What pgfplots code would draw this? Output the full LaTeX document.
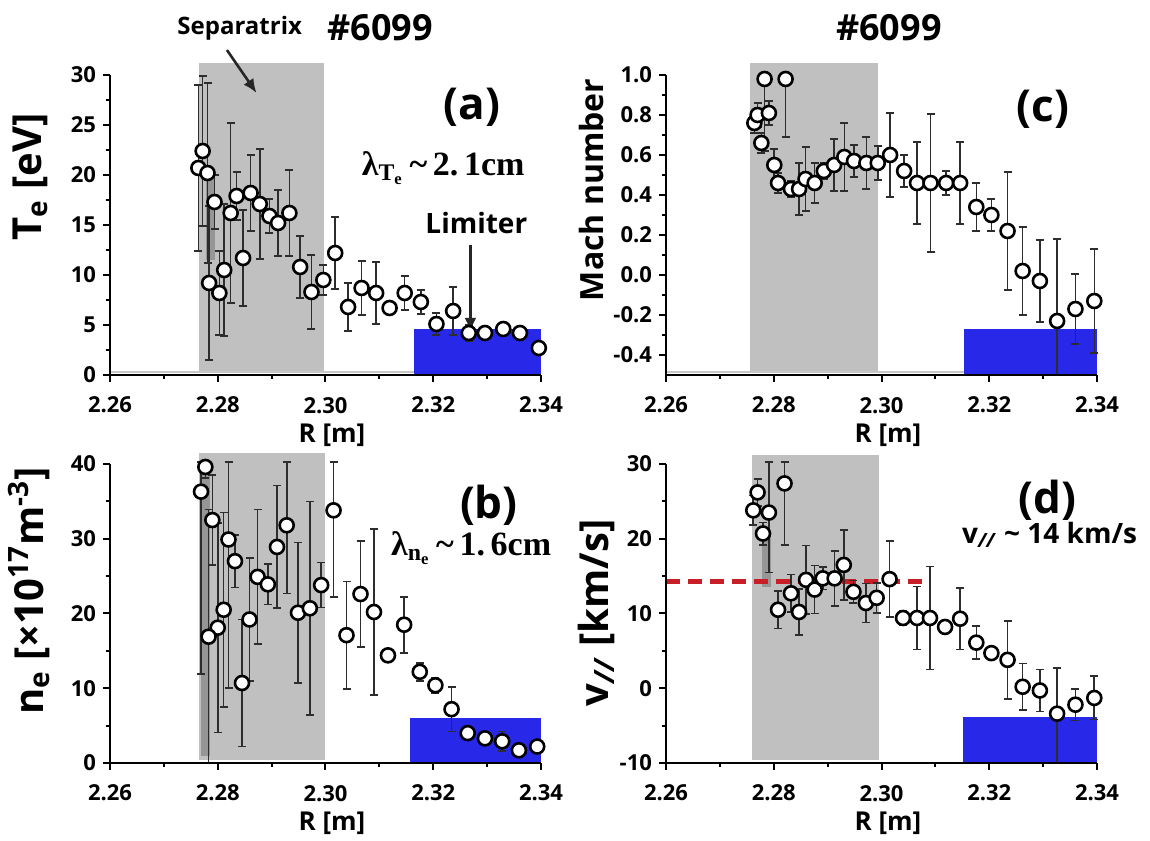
\documentclass[border=0pt]{standalone}
\usepackage{fontspec}
\setmainfont{Open Sans}
\newfontfamily\lser{Liberation Serif}
\usepackage{pgfplots}
\usepackage{pgfplotstable}
\pgfplotsset{compat=1.18}
\usetikzlibrary{arrows.meta}

\definecolor{sepgray}{RGB}{192,192,192}
\definecolor{darkstrip}{RGB}{150,150,150}
\definecolor{limblue}{RGB}{40,40,232}
\definecolor{vred}{RGB}{200,30,40}
\definecolor{errc}{RGB}{45,45,45}

% R, value, error plus, error minus
\pgfplotstableread{
R y ep em
2.2764 20.7 8.3 8.3
2.2772 22.4 7.5 7.5
2.2781 20.2 9.0 9.0
2.2784 9.2 7.7 7.7
2.2794 17.3 2.7 2.7
2.2803 8.2 4.2 4.2
2.2812 10.5 6.6 6.6
2.2824 16.2 9.0 9.0
2.2835 17.9 2.4 2.4
2.2847 11.7 4.8 4.8
2.2861 18.2 3.8 3.8
2.2878 17.1 5.5 5.5
2.2896 15.9 1.7 1.7
2.2912 15.2 3.3 3.3
2.2933 16.2 4.3 4.3
2.2953 10.8 3.1 3.1
2.2974 8.3 3.7 3.7
2.2996 9.5 1.5 1.5
2.3018 12.2 3.6 3.6
2.3042 6.8 2.4 2.4
2.3067 8.7 2.7 2.7
2.3094 8.2 3.1 3.1
2.3119 6.7 0.5 0.5
2.3147 8.2 1.7 1.7
2.3177 7.3 1.2 1.2
2.3206 5.1 1.1 1.1
2.3237 6.4 2.4 2.4
2.3266 4.2 0.8 0.8
2.3296 4.2 0.5 0.5
2.3330 4.6 0.6 0.6
2.3361 4.2 0.3 0.3
2.3396 2.7 0.3 0.3
}\tablea

\pgfplotstableread{
R y ep em
2.2777 39.6 0.7 1.5
2.2769 36.3 4.0 24.4
2.2790 32.5 6.0 6.0
2.2820 29.9 10.4 19.9
2.2832 27.0 3.5 3.5
2.2811 20.5 13.0 13.0
2.2800 18.1 14.0 14.0
2.2783 16.9 17.0 16.9
2.2845 10.7 8.5 8.5
2.2859 19.2 8.2 8.2
2.2874 24.9 9.0 9.0
2.2893 23.9 2.7 2.7
2.2910 28.9 8.2 8.2
2.2928 31.8 8.5 9.1
2.2949 20.1 9.4 9.4
2.2971 20.7 14.3 14.3
2.2992 23.8 3.0 3.0
2.3015 33.8 6.5 11.6
2.3039 17.1 7.2 7.2
2.3065 22.6 7.1 7.1
2.3090 20.2 11.1 11.1
2.3116 14.4 0.6 0.6
2.3146 18.5 3.7 3.8
2.3175 12.2 1.2 1.2
2.3204 10.4 1.0 1.0
2.3234 7.2 3.0 3.0
2.3264 4.0 0.8 0.8
2.3296 3.3 0.5 0.5
2.3328 2.9 1.3 1.3
2.3359 1.7 0.3 0.3
2.3393 2.2 0.3 0.3
}\tableb

\pgfplotstableread{
R y ep em
2.2764 0.76 0.05 0.05
2.2770 0.80 0.06 0.06
2.2791 0.81 0.06 0.06
2.2777 0.66 0.05 0.05
2.2783 0.98 0.02 0.36
2.2822 0.98 0.02 0.29
2.2801 0.55 0.08 0.08
2.2808 0.46 0.05 0.05
2.2832 0.43 0.04 0.04
2.2847 0.43 0.13 0.13
2.2859 0.48 0.16 0.16
2.2876 0.46 0.10 0.10
2.2893 0.52 0.04 0.04
2.2912 0.55 0.13 0.13
2.2931 0.59 0.17 0.17
2.2949 0.57 0.08 0.08
2.2972 0.56 0.13 0.13
2.2993 0.56 0.085 0.085
2.3016 0.60 0.21 0.21
2.3042 0.52 0.08 0.08
2.3066 0.46 0.205 0.205
2.3091 0.46 0.345 0.345
2.3120 0.46 0.06 0.06
2.3146 0.46 0.205 0.205
2.3176 0.34 0.12 0.12
2.3204 0.30 0.08 0.08
2.3234 0.22 0.295 0.295
2.3262 0.02 0.22 0.22
2.3294 -0.03 0.205 0.205
2.3326 -0.23 0.41 0.27
2.3360 -0.17 0.175 0.175
2.3395 -0.13 0.26 0.26
}\tablec

\pgfplotstableread{
R y ep em
2.2770 26.2 1.8 1.8
2.2762 23.8 2.0 2.0
2.2791 23.5 6.8 8.0
2.2780 20.7 1.5 1.5
2.2820 27.4 2.9 8.2
2.2808 10.5 2.5 2.5
2.2832 12.7 2.5 2.5
2.2847 10.2 3.1 3.1
2.2860 14.5 4.6 4.6
2.2876 13.2 3.2 3.2
2.2891 14.7 1.5 1.5
2.2913 14.7 3.7 3.7
2.2930 16.5 4.7 4.7
2.2948 12.9 1.5 1.5
2.2971 11.4 2.6 2.6
2.2991 12.1 2.0 2.0
2.3015 14.6 5.1 5.1
2.3040 9.4 1.0 1.0
2.3066 9.4 4.2 4.2
2.3090 9.4 6.9 6.9
2.3118 8.2 0.8 0.8
2.3146 9.3 4.1 4.1
2.3176 6.1 2.2 2.2
2.3204 4.7 0.6 0.6
2.3234 3.8 5.2 5.2
2.3262 0.2 3.1 3.1
2.3294 -0.3 2.8 2.8
2.3326 -3.4 6.1 6.6
2.3360 -2.2 2.1 2.1
2.3395 -1.3 2.9 2.9
}\tabled

\pgfplotsset{
  panel/.style={
    scale only axis, width=215.5pt, height=150pt,
    xmin=2.26, xmax=2.34,
    axis x line*=bottom, axis y line*=left,
    axis line style={line width=1.4pt, black, -},
    x axis line style={-}, y axis line style={-},
    tick align=outside, major tick length=3.5pt, minor tick length=2pt,
    tick style={black, line width=1pt},
    xtick={2.26,2.28,2.30,2.32,2.34},
    xticklabels={2.26,2.28,2.30,2.32,2.34},
    minor x tick num=1, minor y tick num=1,
    tick label style={font=\bfseries\fontsize{11}{12}\selectfont},
    xticklabel style={yshift=-4pt},
    xlabel={R [m]},
    xlabel style={at={(axis description cs:0.515,-0.2)}, anchor=center,
      font=\bfseries\fontsize{13}{14}\selectfont},
    ylabel style={anchor=center},
    clip=false, axis on top,
  },
  pts/.style={only marks, mark=*, mark size=3.5pt,
    mark options={fill=white, draw=black, line width=1.3pt},
    error bars/.cd, y dir=both, y explicit,
    error bar style={draw=errc, line width=0.8pt},
    error mark=-,
    error mark options={rotate=90, draw=errc, line width=0.8pt, mark size=2pt}},
}

\begin{document}
\begin{tikzpicture}
\path[use as bounding box] (0,0) rectangle (575pt,420pt);

% (a) Te
\begin{axis}[panel, at={(55pt,232.5pt)}, anchor=south west,
  ymin=0, ymax=30, ytick={0,5,10,15,20,25,30},
  yticklabels={0,5,10,15,20,25,30},
  ylabel={T\textsubscript{e} [eV]},
  ylabel style={at={(axis description cs:-0.185,0.66)},
    font=\bfseries\fontsize{20}{22}\selectfont}]
\addplot[fill=sepgray, draw=none] coordinates {(2.2765,0.3) (2.2997,0.3) (2.2997,31.2) (2.2765,31.2)} -- cycle;
\addplot[fill=darkstrip, draw=none] coordinates {(2.2779,11.5) (2.2794,11.5) (2.2794,20) (2.2779,20)} -- cycle;
\addplot[gray!45, line width=1.2pt] coordinates {(2.26,0.3) (2.34,0.3)};
\addplot[fill=limblue, draw=none] coordinates {(2.3165,0) (2.34,0) (2.34,4.6) (2.3165,4.6)} -- cycle;
\addplot[pts] table[x=R, y=y, y error plus=ep, y error minus=em] {\tablea};
\draw[-{Latex[length=7pt,width=6pt]}, line width=1.6pt, black!85] (axis cs:2.3269,13.0) -- (axis cs:2.3269,4.3);
\draw[-{Latex[length=7pt,width=6pt]}, line width=1.3pt, black!85] (axis cs:2.2817,32.5) -- (axis cs:2.2872,28.2);
\node[font=\bfseries\fontsize{22}{24}\selectfont] at (axis description cs:0.84,0.893) {(a)};
\node[font=\lser\bfseries\fontsize{17}{19}\selectfont] at (axis description cs:0.773,0.69)
  {λ\textsubscript{T\textsubscript{e}}\,\textasciitilde\,2.\,1cm};
\node[font=\bfseries\fontsize{14}{16}\selectfont] at (axis description cs:0.85,0.507) {Limiter};
\node[font=\bfseries\fontsize{12}{14}\selectfont] at (axis description cs:0.301,1.157) {Separatrix};
\node[font=\bfseries\fontsize{18}{20}\selectfont] at (axis description cs:0.627,1.157) {\#6099};
\end{axis}

% (c) Mach number
\begin{axis}[panel, at={(333pt,232.5pt)}, anchor=south west,
  ymin=-0.5, ymax=1.0, ytick={-0.4,-0.2,0,0.2,0.4,0.6,0.8,1.0},
  yticklabels={-0.4,-0.2,0.0,0.2,0.4,0.6,0.8,1.0},
  ylabel={Mach number},
  ylabel style={at={(axis description cs:-0.174,0.617)},
    font=\bfseries\fontsize{16}{18}\selectfont}]
\addplot[fill=sepgray, draw=none] coordinates {(2.2755,-0.485) (2.2994,-0.485) (2.2994,1.06) (2.2755,1.06)} -- cycle;
\addplot[gray!45, line width=1.2pt] coordinates {(2.26,-0.485) (2.34,-0.485)};
\addplot[fill=limblue, draw=none] coordinates {(2.3154,-0.5) (2.34,-0.5) (2.34,-0.27) (2.3154,-0.27)} -- cycle;
\addplot[pts] table[x=R, y=y, y error plus=ep, y error minus=em] {\tablec};
\node[font=\bfseries\fontsize{22}{24}\selectfont] at (axis description cs:0.875,0.887) {(c)};
\node[font=\bfseries\fontsize{18}{20}\selectfont] at (axis description cs:0.517,1.157) {\#6099};
\end{axis}

% (b) ne
\begin{axis}[panel, at={(55pt,38.5pt)}, anchor=south west, height=149.5pt,
  ymin=0, ymax=40, ytick={0,10,20,30,40},
  yticklabels={0,10,20,30,40},
  ylabel={n\textsubscript{e} [×10\textsuperscript{17}m\textsuperscript{-3}]},
  ylabel style={at={(axis description cs:-0.188,0.575)},
    font=\bfseries\fontsize{20}{22}\selectfont}]
\addplot[fill=sepgray, draw=none] coordinates {(2.2766,0.4) (2.2999,0.4) (2.2999,41.5) (2.2766,41.5)} -- cycle;
\addplot[fill=darkstrip, draw=none] coordinates {(2.2768,1) (2.2786,1) (2.2786,39) (2.2768,39)} -- cycle;
\addplot[fill=limblue, draw=none] coordinates {(2.3157,0) (2.34,0) (2.34,6.0) (2.3157,6.0)} -- cycle;
\addplot[pts] table[x=R, y=y, y error plus=ep, y error minus=em] {\tableb};
\node[font=\bfseries\fontsize{22}{24}\selectfont] at (axis description cs:0.879,0.863) {(b)};
\node[font=\lser\bfseries\fontsize{17}{19}\selectfont] at (axis description cs:0.838,0.719)
  {λ\textsubscript{n\textsubscript{e}}\,\textasciitilde\,1.\,6cm};
\end{axis}

% (d) v parallel
\begin{axis}[panel, at={(333pt,38.5pt)}, anchor=south west, height=149.5pt,
  ymin=-10, ymax=30, ytick={-10,0,10,20,30},
  yticklabels={-10,0,10,20,30},
  ylabel={v\textsubscript{\textit{//}} [km/s]},
  ylabel style={at={(axis description cs:-0.162,0.502)},
    font=\bfseries\fontsize{20}{22}\selectfont}]
\addplot[fill=sepgray, draw=none] coordinates {(2.2760,-9.6) (2.2996,-9.6) (2.2996,31.2) (2.2760,31.2)} -- cycle;
\addplot[fill=darkstrip, draw=none] coordinates {(2.2779,13.5) (2.2794,13.5) (2.2794,20.8) (2.2779,20.8)} -- cycle;
\addplot[fill=limblue, draw=none] coordinates {(2.3152,-10) (2.34,-10) (2.34,-3.9) (2.3152,-3.9)} -- cycle;
\addplot[vred, line width=2.4pt, dash pattern=on 7pt off 4pt] coordinates {(2.26,14.3) (2.3078,14.3)};
\addplot[pts] table[x=R, y=y, y error plus=ep, y error minus=em] {\tabled};
\node[font=\bfseries\fontsize{22}{24}\selectfont] at (axis description cs:0.885,0.88) {(d)};
\node[font=\bfseries\fontsize{14}{16}\selectfont] at (axis description cs:0.89,0.763)
  {v\textsubscript{\textit{//}} \textasciitilde\ 14 km/s};
\end{axis}
\end{tikzpicture}
\end{document}
